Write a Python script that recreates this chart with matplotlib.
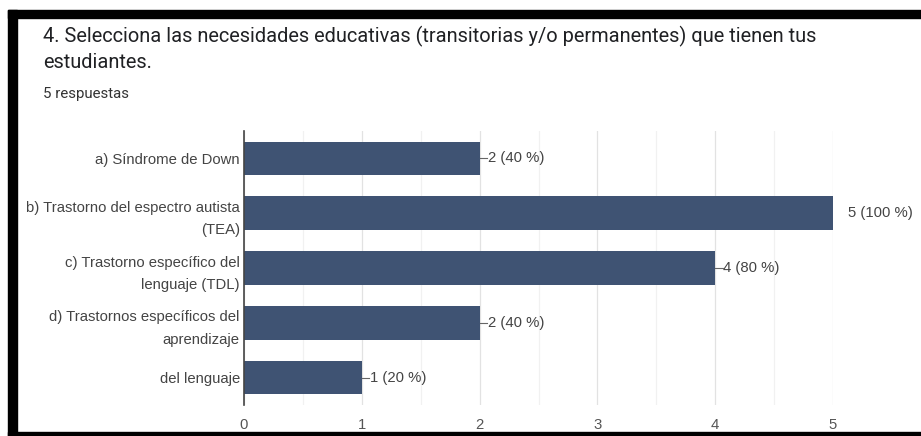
import matplotlib.pyplot as plt
from matplotlib.patches import Rectangle

# Datos
categorias = [
    "a) Síndrome de Down",
    "b) Trastorno del espectro autista\n(TEA)",
    "c) Trastorno específico del\nlenguaje (TDL)",
    "d) Trastornos específicos del\naprendizaje",
    "del lenguaje",
]
respuestas = [2, 5, 4, 2, 1]
porcentajes = [40, 100, 80, 40, 20]
ticks_x = [0, 1, 2, 3, 4, 5]

titulo_1 = "4. Selecciona las necesidades educativas (transitorias y/o permanentes) que tienen tus"
titulo_2 = "estudiantes."
subtitulo = "5 respuestas"

plt.rcParams['font.family'] = ['Roboto', 'DejaVu Sans']
fuente_graf = ['Liberation Sans', 'DejaVu Sans']

W, H = 921, 436
fig = plt.figure(figsize=(W / 100, H / 100), dpi=100)

# Marco negro (captura de pantalla)
def caja(x0, y0, x1, y1):
    fig.patches.append(Rectangle((x0 / W, 1 - y1 / H), (x1 - x0) / W, (y1 - y0) / H,
                                 transform=fig.transFigure, color='black', zorder=0))

caja(8, 10, W, 18)
caja(8, 10, 16.5, H)
caja(8, 432, W, H)

fig.text(43 / W, 1 - 36 / H, titulo_1, fontsize=14.4, color='#202124',
         va='center', ha='left')
fig.text(43 / W, 1 - 63 / H, titulo_2, fontsize=14.4, color='#202124',
         va='center', ha='left')
fig.text(43 / W, 1 - 94 / H, subtitulo, fontsize=10.8, color='#333333',
         va='center', ha='left')

ax = fig.add_axes([244 / W, 1 - 405 / H, 589 / W, 274 / H])
y = list(range(len(categorias)))
ax.barh(y, respuestas, height=0.61, color='#3f5373', zorder=3)
ax.set_ylim(len(categorias) - 0.5, -0.5)
ax.set_xlim(0, 5)

ax.set_yticks(y)
ax.set_yticklabels(categorias, fontsize=10.7, color='#444444', linespacing=1.75,
                   family=fuente_graf)
ax.set_xticks(ticks_x)
ax.set_xticklabels([str(t) for t in ticks_x], fontsize=10.7, color='#555555',
                   family=fuente_graf)
ax.set_xticks([t + 0.5 for t in ticks_x[:-1]], minor=True)
ax.tick_params(axis='both', which='both', length=0, pad=3)
ax.tick_params(axis='x', which='major', pad=9)
ax.grid(axis='x', which='major', color='#e2e2e2', lw=0.9, zorder=0)
ax.grid(axis='x', which='minor', color='#f1f1f1', lw=0.9, zorder=0)

for s in ['top', 'bottom', 'right']:
    ax.spines[s].set_visible(False)
ax.spines['left'].set_color('#444444')
ax.spines['left'].set_linewidth(1.2)
ax.spines['left'].set_zorder(4)

# Etiquetas de valor
for i, (v, p) in enumerate(zip(respuestas, porcentajes)):
    txt = f"{v} ({p} %)"
    if v == max(ticks_x):
        ax.annotate(txt, (v, i), xytext=(11, 0), textcoords='offset points',
                    va='center', ha='left', fontsize=10.7, color='#444444',
                    family=fuente_graf, annotation_clip=False)
    else:
        ax.plot([v, v + 0.065], [i, i], color='#666666', lw=0.8, zorder=4,
                clip_on=False)
        ax.annotate(txt, (v + 0.065, i), xytext=(0.3, 0), textcoords='offset points',
                    va='center', ha='left', fontsize=10.7, color='#444444',
                    family=fuente_graf, annotation_clip=False)

fig.savefig("out.png", dpi=100)
